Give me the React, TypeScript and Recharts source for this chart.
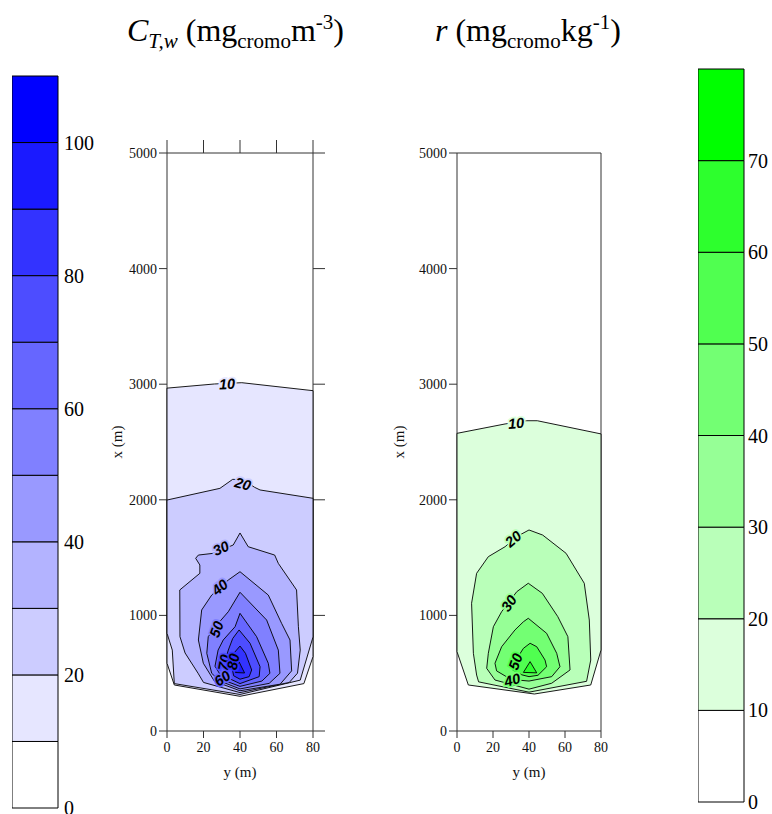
import React from 'react';
import { ScatterChart, Scatter, XAxis, YAxis, BarChart, Bar } from 'recharts';

const serif = '"Liberation Serif", "Times New Roman", serif';

const yTicks = [0, 20, 40, 60, 80];
const xTicks = [0, 1000, 2000, 3000, 4000, 5000];
const frameCorners = [{ y: 0, x: 0 }, { y: 80, x: 5000 }];

// contours of C_T,w, points are [y (m), x (m)]
const ctw10 = [[0, 2966], [26, 3002], [41, 3013], [80, 2944], [80, 643], [75, 410], [40, 300], [4, 398], [0, 586]];
const ctw20 = [[0, 1998], [29, 2099], [36, 2177], [42, 2172], [48, 2108], [51, 2085], [80, 2013], [80, 813], [73, 440], [40, 316], [4, 410], [2.9, 700], [0, 845]];
const ctw30 = [[40, 1713], [44.5, 1594], [59, 1522], [61, 1450], [71, 1220], [72, 902], [73, 700], [71.5, 500], [67, 420], [40, 332], [20, 420], [17, 500], [9.9, 675], [7.1, 816], [7, 1220], [18, 1364], [18, 1436], [15.7, 1494], [17.2, 1522], [25.4, 1537], [36.3, 1609]];
const ctw40 = [[40, 1378], [55.5, 1176], [62.8, 931], [67.4, 787], [68.3, 520], [62, 405], [40, 348], [26, 430], [19.9, 586], [17.2, 787], [19, 1047], [24.5, 1176], [33.6, 1306]];
const ctw50 = [[40, 1200], [54.6, 960], [61, 700], [61.9, 499], [56, 412], [40, 364], [29, 432], [24.5, 499], [21.8, 672], [22.6, 816], [28, 930], [33.6, 1032]];
const ctw60 = [[40, 1018], [49.1, 816], [55.5, 586], [56.4, 499], [52, 432], [40, 386], [31, 440], [26.3, 560], [28, 700], [30.8, 787], [37.3, 902]];
const ctw70 = [[39.5, 874], [45.5, 759], [51, 556], [50.5, 470], [40, 410], [33, 462], [31, 560], [33.6, 700], [36, 800]];
const ctw80 = [[40, 735], [43, 672], [46.4, 528], [45, 470], [40, 448], [36.5, 478], [35.5, 560], [37, 680]];
const ctw90 = [[39.5, 598], [42.5, 502], [37.5, 506]];
const ctwContours = [ctw10, ctw20, ctw30, ctw40, ctw50, ctw60, ctw70, ctw80, ctw90];

const ctwLabels = [
  { y: 32.9, x: 3002, text: '10', angle: -3 },
  { y: 41.5, x: 2137, text: '20', angle: 15 },
  { y: 29.6, x: 1580, text: '30', angle: -25 },
  { y: 29, x: 1243, text: '40', angle: -40 },
  { y: 27.2, x: 880, text: '50', angle: -70 },
  { y: 30.3, x: 456, text: '60', angle: -35 },
  { y: 31.4, x: 591, text: '70', angle: -80 },
  { y: 36.3, x: 600, text: '80', angle: -80 },
];

// contours of r
const r10 = [[0, 2575], [26.7, 2656], [38.7, 2684], [44.6, 2684], [80, 2570], [80, 700], [74.3, 398], [43, 320], [6.3, 398], [0, 686]];
const r20 = [[40, 1739], [47.6, 1695], [60.6, 1537], [70.7, 1278], [73.5, 960], [74.3, 614], [72, 430], [40, 336], [12, 425], [10.9, 484], [9.1, 672], [8.1, 1105], [10.9, 1364], [17.4, 1508], [26.7, 1594], [33, 1680]];
const r30 = [[39.6, 1278], [47.4, 1191], [56, 989], [61.6, 816], [62.8, 528], [52.6, 413], [40, 362], [21.1, 441], [16.5, 542], [17.4, 672], [20.2, 902], [24.8, 1032], [33.2, 1205]];
const r40 = [[39.6, 975], [49.8, 845], [55.4, 672], [57.2, 556], [52.6, 470], [40, 432], [30, 446], [22, 520], [21.1, 586], [24.8, 729], [32.2, 874], [36.9, 945]];
const r50 = [[40.6, 759], [44.3, 729], [48.9, 614], [49.8, 556], [45, 482], [40, 470], [36, 486], [30.9, 528], [33, 620], [36.9, 715]];
const r60 = [[40.6, 600], [44.3, 503], [36.9, 507]];
const rContours = [r10, r20, r30, r40, r50, r60];

const rLabels = [
  { y: 32.8, x: 2662, text: '10', angle: -5 },
  { y: 31.3, x: 1661, text: '20', angle: -40 },
  { y: 28.9, x: 1105, text: '30', angle: -55 },
  { y: 30.7, x: 441, text: '40', angle: -15 },
  { y: 32.6, x: 600, text: '50', angle: -70 },
];

// colour scales
const ctwEdges = [0, 10, 20, 30, 40, 50, 60, 70, 80, 90, 100, 110];
const ctwColors = ['#ffffff', '#e6e6ff', '#ccccff', '#b3b3ff', '#9999ff', '#8080ff', '#6666ff', '#4d4dff', '#3333ff', '#1a1aff', '#0000ff'];
const ctwScaleTicks = [0, 20, 40, 60, 80, 100];

const rEdges = [0, 10, 20, 30, 40, 50, 60, 70, 80];
const rColors = ['#ffffff', '#dcffdc', '#b9ffb9', '#96ff96', '#73ff73', '#50ff50', '#2dff2d', '#00ff00'];
const rScaleTicks = [0, 10, 20, 30, 40, 50, 60, 70];

const toPoints = (c: number[][]) => c.map(([y, x]) => ({ y, x }));
const noText = () => '';
const noDot = () => <g />;

const polygon = (fill: string) => (props: any) => {
  const pts: { x: number; y: number }[] = props.points || [];
  if (!pts.length) return <g />;
  const d = pts.map((p, i) => `${i ? 'L' : 'M'}${p.x},${p.y}`).join('') + 'Z';
  return <path d={d} fill={fill} stroke="#000" strokeWidth={0.9} />;
};

const labelShape = (colors: string[]) => (props: any) => {
  const { cx, cy, payload } = props;
  const halo = colors[Number(payload.text) / 10] || '#fff';
  return (
    <text
      x={cx}
      y={cy}
      transform={`rotate(${payload.angle} ${cx} ${cy})`}
      textAnchor="middle"
      dominantBaseline="central"
      fontFamily='"Liberation Sans", Arial, sans-serif'
      fontWeight="bold"
      fontStyle="italic"
      fontSize={14.5}
      fill="#000"
      stroke={halo}
      strokeWidth={3.5}
      paintOrder="stroke"
    >
      {payload.text}
    </text>
  );
};

interface PanelProps {
  contours: number[][][];
  labels: { y: number; x: number; text: string; angle: number }[];
  colors: string[];
  left: number;
  width: number;
  yLabelOffset: number;
  framed: boolean;
}

const tickStyle = { fontSize: 14, fontFamily: serif, fill: '#111' };
const axisLabelStyle = { fontSize: 15, fontFamily: serif, fill: '#111' };

function ContourPanel({ contours, labels, colors, left, width, yLabelOffset, framed }: PanelProps) {
  return (
    <div style={{ position: 'absolute', left, top: 130 }}>
      <ScatterChart width={width} height={660} margin={{ top: 8, right: 12, bottom: 9, left: 7 }}>
        <XAxis
          type="number"
          dataKey="y"
          domain={[0, 80]}
          ticks={yTicks}
          interval={0}
          height={50}
          tickSize={7}
          tickMargin={4}
          stroke="#333"
          tick={tickStyle}
          label={{ value: 'y (m)', position: 'insideBottom', offset: 4, ...axisLabelStyle }}
        />
        <XAxis
          xAxisId="top"
          orientation="top"
          type="number"
          dataKey="y"
          domain={[0, 80]}
          ticks={yTicks}
          interval={0}
          height={15}
          tickSize={13}
          tickFormatter={noText}
          tickLine={framed}
          stroke="#333"
        />
        <YAxis
          type="number"
          dataKey="x"
          domain={[0, 5000]}
          ticks={xTicks}
          interval={0}
          width={60}
          tickSize={8}
          tickMargin={2}
          stroke="#333"
          tick={tickStyle}
          label={{
            value: 'x (m)',
            angle: -90,
            position: 'insideLeft',
            offset: yLabelOffset,
            style: { textAnchor: 'middle' },
            ...axisLabelStyle,
          }}
        />
        <YAxis
          yAxisId="right"
          orientation="right"
          type="number"
          dataKey="x"
          domain={[0, 5000]}
          ticks={xTicks}
          interval={0}
          width={15}
          tickSize={12}
          tickFormatter={noText}
          tickLine={framed}
          stroke="#333"
        />
        {contours.map((c, i) => (
          <Scatter
            key={i}
            data={toPoints(c)}
            fill={colors[i + 1]}
            line={polygon(colors[i + 1])}
            shape={noDot}
            isAnimationActive={false}
          />
        ))}
        <Scatter data={labels} shape={labelShape(colors)} isAnimationActive={false} />
        <Scatter xAxisId="top" yAxisId="right" data={frameCorners} shape={noDot} isAnimationActive={false} />
      </ScatterChart>
    </div>
  );
}

interface BarProps {
  edges: number[];
  colors: string[];
  ticks: number[];
  left: number;
  top: number;
  plotHeight: number;
  gap: number;
}

function ColorBar({ edges, colors, ticks, left, top, plotHeight, gap }: BarProps) {
  const row: Record<string, any> = { name: 'scale' };
  edges.slice(1).forEach((e, i) => {
    row['b' + i] = e - edges[i];
  });
  return (
    <div style={{ position: 'absolute', left, top }}>
      <BarChart
        width={106}
        height={plotHeight + 24}
        data={[row]}
        margin={{ top: 10, right: 0, bottom: 14, left: 0 }}
        barCategoryGap={0}
      >
        <XAxis dataKey="name" hide />
        <YAxis
          orientation="right"
          type="number"
          domain={[0, edges[edges.length - 1]]}
          ticks={ticks}
          interval={0}
          width={60}
          tickSize={0}
          tickMargin={gap}
          axisLine={false}
          tickLine={false}
          tick={{ fontSize: 20, fontFamily: serif, fill: '#000' }}
        />
        {colors.map((c, i) => (
          <Bar key={i} dataKey={'b' + i} stackId="s" fill={c} stroke="#000" strokeWidth={1} isAnimationActive={false} />
        ))}
      </BarChart>
    </div>
  );
}

const titleStyle: React.CSSProperties = {
  position: 'absolute',
  top: 14,
  fontFamily: serif,
  fontSize: 32,
  lineHeight: '32px',
  whiteSpace: 'nowrap',
  color: '#000',
};
const sub: React.CSSProperties = { fontSize: 21, position: 'relative', top: 7 };
const sup: React.CSSProperties = { fontSize: 21, position: 'relative', top: -12 };

export default function App() {
  return (
    <div style={{ position: 'absolute', left: 0, top: 0, width: 772, height: 814, overflow: 'hidden', background: '#fff' }}>
      <div style={{ ...titleStyle, left: 127 }}>
        <i>C</i>
        <span style={sub}>
          <i>T,w</i>
        </span>{' '}
        (mg<span style={sub}>cromo</span>m<span style={sup}>-3</span>)
      </div>
      <div style={{ ...titleStyle, left: 435 }}>
        <i>r</i> (mg<span style={sub}>cromo</span>kg<span style={sup}>-1</span>)
      </div>
      <ColorBar edges={ctwEdges} colors={ctwColors} ticks={ctwScaleTicks} left={12} top={66} plotHeight={732} gap={6} />
      <ContourPanel
        contours={ctwContours}
        labels={ctwLabels}
        colors={ctwColors}
        left={100}
        width={240}
        yLabelOffset={10}
        framed
      />
      <ContourPanel
        contours={rContours}
        labels={rLabels}
        colors={rColors}
        left={390}
        width={238}
        yLabelOffset={2}
        framed={false}
      />
      <ColorBar edges={rEdges} colors={rColors} ticks={rScaleTicks} left={698} top={59} plotHeight={733} gap={4} />
    </div>
  );
}
